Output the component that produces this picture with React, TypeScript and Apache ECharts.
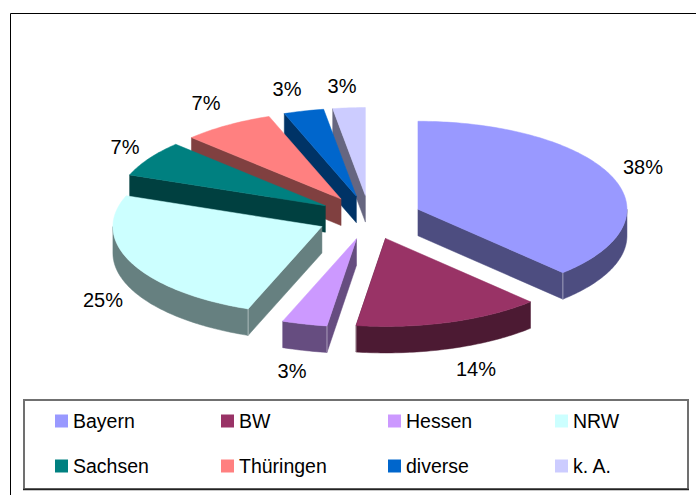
import React, { useEffect, useRef } from "react";
import * as echarts from "echarts";

const categories = ["Bayern", "BW", "Hessen", "NRW", "Sachsen", "Thüringen", "diverse", "k. A."];
const shares = [37.8, 14.45, 3.49, 24.95, 6.6, 7.1, 3.1, 2.5];
const topColors = ["#9999FF", "#993366", "#CC99FF", "#CCFFFF", "#008080", "#FF8080", "#0066CC", "#CCCCFF"];
const sideColors = ["#4D4D80", "#4C1A33", "#664D80", "#668080", "#004040", "#804040", "#003366", "#666680"];
const labelCentres = [[643, 167], [476, 369], [292, 371], [103, 300], [125, 147], [206, 103], [287, 89], [342, 86]];

const CX = 369.5;
const CY = 217.5;
const RX = 209;
const RY = 88;
const DEPTH = 26.5;
const EXPLODE = 0.25;
const FONT = "Liberation Sans";

const total = shares.reduce((a, b) => a + b, 0);
const starts: number[] = [];
shares.reduce((acc, v, i) => {
  starts[i] = acc;
  return acc + (v / total) * 360;
}, 0);

const rad = (d: number) => (d * Math.PI) / 180;
const rim = (a: number[], d: number, dy = 0) => [
  a[0] + RX * Math.sin(rad(d)),
  a[1] - RY * Math.cos(rad(d)) + dy,
];
const arc = (a: number[], from: number, to: number, dy = 0) => {
  const pts: number[][] = [];
  const n = Math.max(2, Math.ceil(to - from));
  for (let k = 0; k <= n; k++) pts.push(rim(a, from + ((to - from) * k) / n, dy));
  return pts;
};

function renderSlice(i: number) {
  const from = starts[i];
  const to = from + (shares[i] / total) * 360;
  const mid = (from + to) / 2;
  const apex = [CX + EXPLODE * RX * Math.sin(rad(mid)), CY - EXPLODE * RY * Math.cos(rad(mid))];
  const lower = [apex[0], apex[1] + DEPTH];
  const children: any[] = [];
  const wallStyle = { fill: sideColors[i], stroke: sideColors[i], lineWidth: 0.5 };
  // radial wall facing the viewer
  const wallAngle = mid < 180 ? to : from;
  const edge = rim(apex, wallAngle);
  children.push({
    type: "polygon",
    shape: { points: [apex, edge, [edge[0], edge[1] + DEPTH], lower] },
    style: wallStyle,
    silent: true,
  });
  // outer curved wall
  const vFrom = Math.max(from, 90);
  const vTo = Math.min(to, 270);
  if (vTo > vFrom) {
    children.push({
      type: "polygon",
      shape: { points: [...arc(apex, vFrom, vTo), ...arc(apex, vFrom, vTo, DEPTH).reverse()] },
      style: wallStyle,
      silent: true,
    });
    const corner = rim(apex, wallAngle);
    children.push({
      type: "line",
      shape: { x1: corner[0], y1: corner[1], x2: corner[0], y2: corner[1] + DEPTH },
      style: { stroke: "rgba(255,255,255,0.45)", lineWidth: 1 },
      silent: true,
    });
  }
  // top face
  children.push({
    type: "polygon",
    shape: { points: [apex, ...arc(apex, from, to)] },
    style: { fill: topColors[i], stroke: topColors[i], lineWidth: 0.5 },
    silent: true,
  });
  // percentage label
  children.push({
    type: "text",
    x: labelCentres[i][0],
    y: labelCentres[i][1],
    style: {
      text: `${Math.round(shares[i])}%`,
      fill: "#000",
      font: `20px "${FONT}"`,
      align: "center",
      verticalAlign: "middle",
    },
    silent: true,
  });
  return { type: "group", children };
}

const legendColumns = [
  { left: 55, names: [0, 4] },
  { left: 221, names: [1, 5] },
  { left: 388, names: [2, 6] },
  { left: 555, names: [3, 7] },
];

export default function App() {
  const ref = useRef<HTMLDivElement>(null);
  useEffect(() => {
    const chart = echarts.init(ref.current!, undefined, { renderer: "svg" });
    chart.setOption({
      animation: false,
      backgroundColor: "#fff",
      graphic: [
        {
          type: "rect",
          shape: { x: 10.5, y: 13.5, width: 700, height: 500 },
          style: { fill: "none", stroke: "#000", lineWidth: 1 },
          silent: true,
          z: -1,
        },
        {
          type: "rect",
          shape: { x: 24, y: 400, width: 664, height: 89 },
          style: { fill: "none", stroke: "#707070", lineWidth: 2 },
          silent: true,
          z: -1,
        },
        {
          type: "line",
          shape: { x1: 23, y1: 489.5, x2: 689, y2: 489.5 },
          style: { stroke: "#222", lineWidth: 1.5 },
          silent: true,
          z: -1,
        },
      ],
      legend: legendColumns.map((c) => ({
        left: c.left,
        top: 411,
        orient: "vertical",
        padding: 0,
        itemWidth: 13,
        itemHeight: 13,
        itemGap: 25,
        icon: "rect",
        selectedMode: false,
        textStyle: { fontFamily: FONT, fontSize: 19.5, color: "#000", padding: [0, 0, 0, 0] },
        data: c.names.map((n) => ({ name: categories[n], icon: "rect", itemStyle: { color: topColors[n] } })),
      })),
      series: categories.map((name, i) => ({
        type: "custom",
        name,
        coordinateSystem: "none",
        z: 10 + categories.length - i,
        itemStyle: { color: topColors[i] },
        data: [[shares[i]]],
        renderItem: () => renderSlice(i),
      })),
    });
    return () => chart.dispose();
  }, []);
  return <div ref={ref} style={{ position: "absolute", left: 0, top: 0, width: 696, height: 495 }} />;
}
